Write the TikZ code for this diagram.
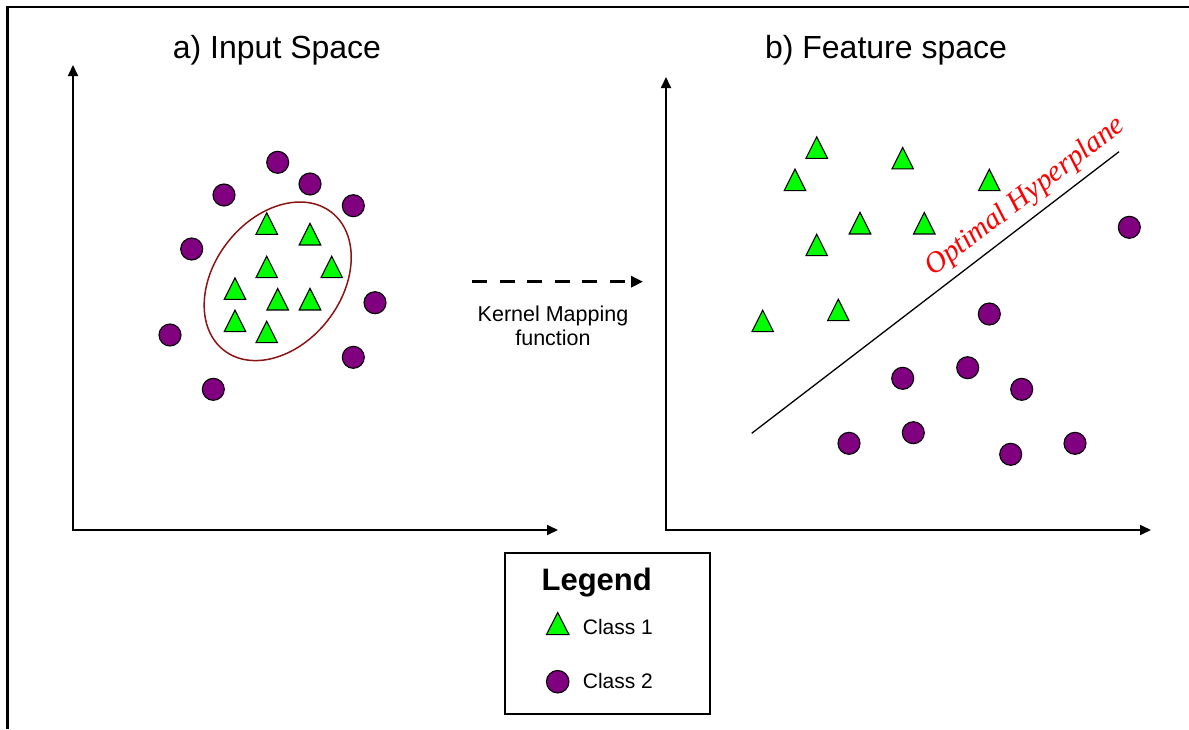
\documentclass[tikz,border=0pt]{standalone}
\usepackage{fontspec}
\setmainfont{Liberation Sans}
\newfontfamily\hypfont{Liberation Serif}
\usetikzlibrary{arrows.meta,shapes.geometric}
\definecolor{classgreen}{RGB}{0,255,0}
\definecolor{classpurple}{RGB}{128,0,128}
\definecolor{clusterred}{RGB}{139,20,20}

\begin{document}
\begin{tikzpicture}[x=1pt,y=-1pt,
  cls1/.style={isosceles triangle, isosceles triangle stretches,
    shape border rotate=90, minimum width=21.5pt, minimum height=21.5pt,
    inner sep=0pt, outer sep=0pt, draw=black, line width=1.1pt, fill=classgreen},
  cls2/.style={circle, minimum size=22pt, inner sep=0pt, outer sep=0pt,
    draw=black, line width=1.1pt, fill=classpurple},
  axis/.style={line width=1.8pt,
    {Triangle[length=11pt,width=10pt]}-{Triangle[length=11pt,width=10pt]}},
  paneltitle/.style={font=\fontsize{32}{38}\selectfont, anchor=base},
  smalltext/.style={font=\fontsize{21.5}{24}\selectfont, anchor=base},
]
\useasboundingbox (0,0) rectangle (1189,729);

% outer frame (top and left edges)
\draw[line width=2.2pt] (7.5,729) -- (7.5,6.7) -- (1189,6.7);

% panel titles
\node[paneltitle] (ttlA) at (277,58) {a) Input Space};
\node[paneltitle] (ttlB) at (886,58) {b) Feature space};

% axes
\coordinate (oA) at (73,530);
\coordinate (yA) at (73,65);
\coordinate (xA) at (558,530);
\coordinate (oB) at (666,530);
\coordinate (yB) at (666,77);
\coordinate (xB) at (1151,530);
\draw[axis] (yA) -- (oA) -- (xA);
\draw[axis] (yB) -- (oB) -- (xB);

% input space: enclosing ellipse
\node[ellipse, draw=clusterred, line width=1.5pt, minimum width=175pt,
  minimum height=127pt, inner sep=0pt, rotate=52] (cluster) at (277.7,281.3) {};

% input space: class 2
\foreach \x/\y [count=\i] in {277.7/162.3, 224/195, 310/184, 353.3/205.7,
    191.7/249, 375/302.7, 170/335, 353.3/357.3, 213.3/389.3}
  \node[cls2] (inB\i) at (\x,\y) {};

% input space: class 1
\foreach \x/\y [count=\i] in {266.7/227.7, 310/238.3, 266.7/271, 331.7/271,
    235/292.7, 277.7/303.3, 310/303.3, 235/325, 266.7/336}
  \node[cls1] (inA\i) at (\x,\y) {};

% kernel mapping arrow
\coordinate (mapS) at (472,281.7);
\coordinate (mapE) at (643,281.7);
\draw[line width=3pt, dash pattern=on 15pt off 12.6pt,
  -{Triangle[length=12pt,width=11pt]}] (mapS) -- (mapE);
\node[smalltext] (kern1) at (553,321.7) {Kernel Mapping};
\node[smalltext] (kern2) at (553,345) {function};

% feature space: class 1
\foreach \x/\y [count=\i] in {816.7/151.7, 902.7/162.3, 795/184, 989.3/184,
    860/227.3, 924.3/227.3, 816.7/249, 838.3/314, 762.7/325}
  \node[cls1] (ftA\i) at (\x,\y) {};

% feature space: class 2
\foreach \x/\y [count=\i] in {1129.3/227.3, 989.3/314, 967.7/367.7,
    902.7/378.3, 1021.7/389.3, 913.3/432.7, 849/443.3, 1075/443.3, 1010.7/454.3}
  \node[cls2] (ftB\i) at (\x,\y) {};

% separating hyperplane
\coordinate (hpS) at (751.7,433.3);
\coordinate (hpE) at (1119,151.7);
\draw[line width=1.3pt] (hpS) -- (hpE);
\node[anchor=base west, rotate=37.5, text=red, inner sep=0pt,
  font=\hypfont\itshape\fontsize{29.5}{34}\selectfont] (hptext) at (933,277)
  {Optimal Hyperplane};

% legend
\node[draw, line width=1.2pt, minimum width=205pt, minimum height=161pt,
  inner sep=0pt, anchor=north west] (legend) at (504.3,552.3) {};
\node[anchor=base, font=\bfseries\fontsize{31}{36}\selectfont] (legTitle)
  at (596.7,590) {Legend};
\node[cls1, minimum width=22.5pt, minimum height=22pt] (legA) at (557.7,627.7) {};
\node[cls2, minimum size=22.5pt] (legB) at (557.7,681.7) {};
\node[smalltext, anchor=base west, inner sep=0pt, font=\fontsize{21}{24}\selectfont]
  (legAtxt) at (582.7,634.3) {Class 1};
\node[smalltext, anchor=base west, inner sep=0pt, font=\fontsize{21}{24}\selectfont]
  (legBtxt) at (582.7,688.3) {Class 2};
\end{tikzpicture}
\end{document}
